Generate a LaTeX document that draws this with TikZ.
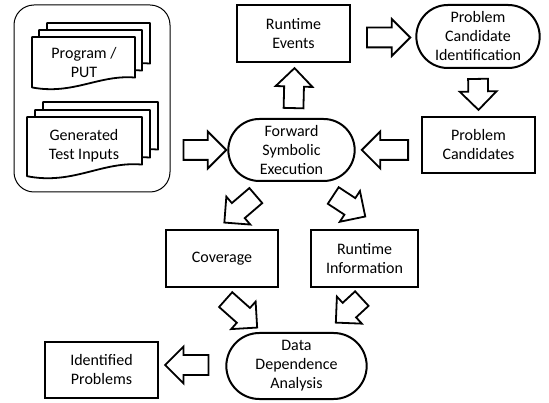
\documentclass[tikz,border=0pt]{standalone}
\usepackage{fontspec}
\setmainfont{Carlito}
\usetikzlibrary{shapes.arrows,shapes.misc,calc}

\tikzset{
  box/.style={draw, line width=2pt, align=center, minimum width=113pt, minimum height=57pt},
  phase/.style={draw, rounded rectangle, line width=2pt, align=center, minimum width=130pt, minimum height=63pt},
  fat arrow/.style={single arrow, draw, line width=1.8pt, fill=white, inner xsep=0pt, inner ysep=9pt,
    minimum width=35pt, single arrow head extend=8.5pt, single arrow tip angle=90, anchor=tail},
  page/.style={draw, line width=1.8pt, fill=white, line join=round}
}

% hollow block arrow from #1 to #2
\newcommand{\bigarrow}[2]{%
  \path let \p1=#1, \p2=#2,
    \n1={atan2(\y2-\y1,\x2-\x1)}, \n2={veclen(\x2-\x1,\y2-\y1)} in
    node[fat arrow, minimum height=\n2, rotate=\n1] at (\p1) {};}

% one sheet of a document stack: top left x, y, width, height
\newcommand{\docpage}[4]{%
  \draw[page, shift={(#1,#2)}] (0,0) -- (#3,0) -- (#3,{0.78*#4})
    .. controls ({0.65*#3},{0.72*#4}) and ({0.4*#3},{1.12*#4}) .. (0,{0.97*#4}) -- cycle;}

\begin{document}
\begin{tikzpicture}[x=1pt, y=-1pt, every node/.style={font=\fontsize{16}{19}\selectfont}]
  \useasboundingbox (0,0) rectangle (549,403);

  % inputs
  \node[draw, rounded corners=20pt, line width=1pt, minimum width=156pt, minimum height=187pt] (inputs) at (92,98.5) {};
  \foreach \px/\py in {47/23, 39/30, 32/37}
    \docpage{\px}{\py}{103}{52};
  \node[align=center] (program) at (84,63) {Program /\\PUT};
  \foreach \px/\py in {43/102, 35/110, 27/117}
    \docpage{\px}{\py}{115}{61};
  \node[align=center] (test_inputs) at (84,146) {Generated\\Test Inputs};

  % steps
  \node[box] (run_events) at (293.5,33.5) {Runtime\\Events};
  \node[phase] (cand_ident) at (478,36.5) {Problem\\Candidate\\Identification};
  \node[box, minimum height=56pt] (prob_cands) at (478.5,145) {Problem\\Candidates};
  \node[phase, minimum width=133pt, minimum height=62pt] (fwd_exec) at (291.5,150) {Forward\\Symbolic\\Execution};
  \node[box, minimum width=112pt] (coverage) at (222,258.5) {Coverage};
  \node[box, minimum width=107pt] (run_info) at (364.5,258.5) {Runtime\\Information};
  \node[phase, minimum width=147pt, minimum height=66pt] (data_dep) at (296.5,366) {Data\\Dependence\\Analysis};
  \node[box, minimum height=56pt] (ident_probs) at (101.5,370) {Identified\\Problems};

  % block arrows
  \bigarrow{($(inputs.east |- fwd_exec.west)+(12,0)$)}{($(fwd_exec.west)+(-2,0)$)}
  \bigarrow{($(fwd_exec.north)+(2,-9)$)}{($(run_events.south)+(1,6)$)}
  \bigarrow{($(run_events.east)+(15,4)$)}{($(cand_ident.west)+(-6,1)$)}
  \bigarrow{($(cand_ident.south)+(0,9)$)}{($(prob_cands.north)+(0,-7)$)}
  \bigarrow{($(prob_cands.west)+(-12,5)$)}{($(fwd_exec.east)+(7,0)$)}
  \bigarrow{($(fwd_exec.south)+(-35,13)$)}{($(coverage.north)+(3,-7)$)}
  \bigarrow{($(fwd_exec.south)+(41,13)$)}{($(run_info.north)+(0,-13)$)}
  \bigarrow{($(coverage.south)+(3,11)$)}{($(data_dep.north)+(-40,-5)$)}
  \bigarrow{($(run_info.south)+(-2,10)$)}{($(data_dep.north)+(40,-10)$)}
  \bigarrow{($(data_dep.west)+(-16,-1)$)}{($(ident_probs.east)+(7,-5)$)}
\end{tikzpicture}
\end{document}
